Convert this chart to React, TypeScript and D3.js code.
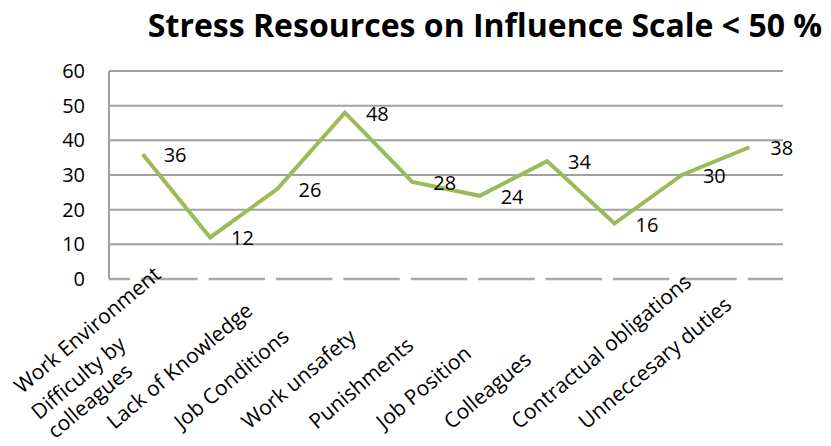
import React from "react";
import * as d3 from "d3";

const categories = [
  "Work Environment",
  "Difficulty by\ncolleagues",
  "Lack of Knowledge",
  "Job Conditions",
  "Work unsafety",
  "Punishments",
  "Job Position",
  "Colleagues",
  "Contractual obligations",
  "Unneccesary duties",
];
const values = [36, 12, 26, 48, 28, 24, 34, 16, 30, 38];
const yTicks = [0, 10, 20, 30, 40, 50, 60];
const title = "Stress Resources on Influence Scale < 50 %";

const W = 831;
const H = 446;
const left = 109;
const right = 783;
const top = 71;
const bottom = 279;
const FONT = "'Open Sans', sans-serif";

export default function App() {
  const x = d3.scaleBand<string>().domain(categories).range([left, right]).padding(0);
  const y = d3.scaleLinear().domain([0, 60]).range([bottom, top]);
  const cx = (c: string) => (x(c) as number) + x.bandwidth() / 2;
  const line = d3
    .line<number>()
    .x((_, i) => cx(categories[i]))
    .y((v) => y(v));

  const step = x.step();
  const gap = 11;
  const dashOff = step / 2 - gap + 12.5;
  const angle = -40;
  const rad = (angle * Math.PI) / 180;
  const dir = [Math.cos(rad), Math.sin(rad)];
  const lineH = 25;

  return (
    <svg
      width={W}
      height={H}
      style={{ position: "absolute", left: 0, top: 0, background: "#fff" }}
      fontFamily={FONT}
    >
      <text
        x={485}
        y={37}
        textAnchor="middle"
        fontSize={32}
        fontWeight={700}
        fill="#000"
      >
        {title}
      </text>
      {yTicks.filter((t) => t > 0).map((t) => (
        <line
          key={"g" + t}
          x1={left}
          x2={right}
          y1={y(t)}
          y2={y(t)}
          stroke="#a0a0a0"
          strokeWidth={2}
        />
      ))}
      <line x1={left} x2={left} y1={top} y2={bottom} stroke="#a0a0a0" strokeWidth={2} />
      <line
        x1={left}
        x2={right}
        y1={bottom}
        y2={bottom}
        stroke="#a8a8a8"
        strokeWidth={2.5}
        strokeDasharray={`${step - gap} ${gap}`}
        strokeDashoffset={dashOff}
      />
      {yTicks.map((t) => (
        <text
          key={"t" + t}
          x={85}
          y={y(t)}
          dy="0.35em"
          textAnchor="end"
          fontSize={20}
          fill="#000"
        >
          {t}
        </text>
      ))}
      <path
        d={line(values) || ""}
        fill="none"
        stroke="#9bbb59"
        strokeWidth={4}
        strokeLinejoin="miter"
      />
      {values.map((v, i) => (
        <text
          key={"d" + i}
          x={cx(categories[i]) + 21}
          y={y(v) + 8}
          fontSize={20}
          fill="#000"
        >
          {v}
        </text>
      ))}
      {categories.map((c, i) => {
        const lines = c.split("\n");
        let bx = cx(c) - 163;
        let by = 430;
        if (bx < 22) {
          const t = (22 - bx) / dir[0];
          bx += dir[0] * t;
          by += dir[1] * t;
        }
        const offset0 = -((lines.length - 1) / 2) * lineH;
        return (
          <g key={"c" + i} transform={`translate(${bx},${by}) rotate(${angle})`}>
            {lines.map((ln, j) => (
              <text key={j} x={0} y={offset0 + j * lineH} fontSize={21} fill="#000">
                {ln}
              </text>
            ))}
          </g>
        );
      })}
    </svg>
  );
}
